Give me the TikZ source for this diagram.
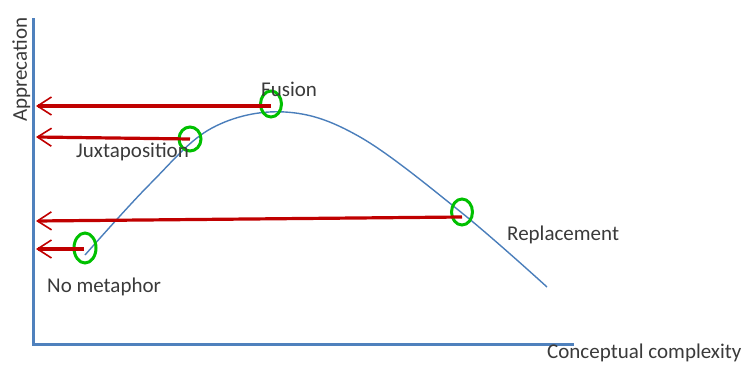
\documentclass[tikz,border=0pt]{standalone}
\usepackage{fontspec}
\setmainfont{Carlito}
\usetikzlibrary{arrows.meta,shapes.geometric}
\definecolor{axisblue}{HTML}{4F81BD}
\definecolor{curveblue}{HTML}{4A7EBB}
\definecolor{arrred}{HTML}{C00000}
\definecolor{ringgreen}{HTML}{00C000}
\definecolor{txt}{HTML}{3A3A3A}
\tikzset{
  axisline/.style={draw=axisblue,line width=3pt},
  curveline/.style={draw=curveblue,line width=1.4pt},
  redarrow/.style={draw=arrred,line width=3.2pt,-{Straight Barb[length=14pt,width=18pt,line width=1.6pt]}},
  ring/.style={draw=ringgreen,line width=3pt,ellipse,inner sep=0pt,minimum width=21pt,minimum height=26pt},
  lab/.style={text=txt,font=\fontsize{21}{24}\selectfont,inner sep=0pt,anchor=base west}
}
\begin{document}
\begin{tikzpicture}[x=1pt,y=-1pt]
\useasboundingbox (0,0) rectangle (749,364);
% axes
\coordinate (ytop) at (33,18);
\coordinate (origin) at (33,344);
\coordinate (xend) at (574,344);
\draw[axisline] (ytop) -- (origin) -- (xend);
% curve
\draw[curveline] plot[smooth,tension=0.6] coordinates {(85,255) (150,184) (212,128) (285,112) (360,137) (462,213) (547,287)};
% rings
\node[ring] (fus) at (271,104) {};
\node[ring,minimum width=22pt,minimum height=24pt] (jux) at (190,139) {};
\node[ring] (rep) at (462,212) {};
\node[ring,minimum width=22pt,minimum height=30pt] (nom) at (85,248) {};
% arrow ends on axis
\coordinate (fusA) at (36,106);
\coordinate (juxA) at (36,137);
\coordinate (repA) at (36,221);
\coordinate (nomA) at (36,249);
\draw[redarrow] (fus.center) ++(0,2) -- (fusA);
\draw[redarrow] (jux.center) -- (juxA);
\draw[redarrow] (rep.center) ++(0,5) -- (repA);
\draw[redarrow] (nom.center) ++(-1,1) -- (nomA);
% labels
\node[lab] (lfus) at (261,96) {Fusion};
\node[lab] (ljux) at (76,157) {Juxtaposition};
\node[lab] (lrep) at (507,240) {Replacement};
\node[lab] (lnom) at (47,292) {No metaphor};
\node[lab] (lx) at (547,358.5) {Conceptual complexity};
\node[lab,rotate=90] (ly) at (27,122) {Apprecation};
\end{tikzpicture}
\end{document}
